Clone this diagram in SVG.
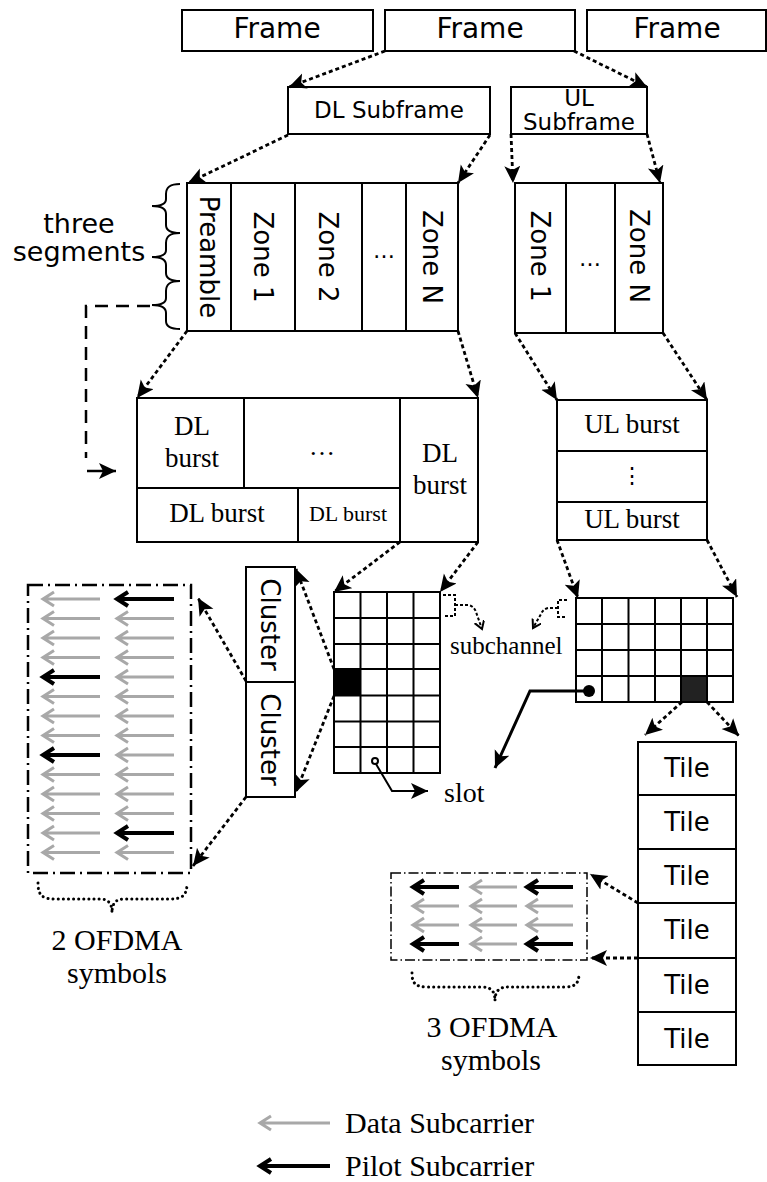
<svg xmlns="http://www.w3.org/2000/svg" xmlns:xlink="http://www.w3.org/1999/xlink" width="767" height="1182" viewBox="0 0 767 1182">
<style>
.box{fill:#fff;stroke:#000;stroke-width:2}
.ln{fill:none;stroke:#000;stroke-width:2}
.sans{font-family:"DejaVu Sans",Verdana,sans-serif;fill:#000}
.serif{font-family:"Liberation Serif","Times New Roman",serif;fill:#000}
.dot{fill:none;stroke:#000;stroke-width:2.8;stroke-dasharray:4 3}
.sub{fill:none;stroke:#000;stroke-width:2;stroke-dasharray:3 2}
.sol{fill:none;stroke:#000;stroke-width:2.5}
.gray{fill:none;stroke:#a8a8a8;stroke-width:3}
.blk{fill:none;stroke:#000;stroke-width:4}
.rdot{fill:none;stroke:#000;stroke-width:3;stroke-linecap:round;stroke-dasharray:0.1 5}
</style>
<defs>
<marker id="ah" markerUnits="userSpaceOnUse" markerWidth="20" markerHeight="18" refX="17" refY="8" orient="auto">
<path d="M0,0 L17,8 L0,16 L4,8 z" fill="#000"/>
</marker>
<marker id="sm" markerUnits="userSpaceOnUse" markerWidth="12" markerHeight="12" refX="8" refY="5" orient="auto">
<path d="M0,0 L8,5 L0,10" fill="none" stroke="#000" stroke-width="2"/>
</marker>
<path id="a57" d="M0,0 H57 M11,-7 L0,0 L11,7"/>
<path id="a46" d="M0,0 H46 M11,-7 L0,0 L11,7"/>
<path id="a70" d="M0,0 H70 M11,-7 L0,0 L11,7"/>
</defs>

<g id="frames">
<rect class="box" x="182" y="10" width="191" height="41"/>
<text class="sans" x="277" y="38" font-size="28" text-anchor="middle">Frame</text>
<rect class="box" x="385" y="10" width="190" height="41"/>
<text class="sans" x="480" y="38" font-size="28" text-anchor="middle">Frame</text>
<rect class="box" x="587" y="10" width="179" height="41"/>
<text class="sans" x="677" y="38" font-size="28" text-anchor="middle">Frame</text>
</g>

<g id="dl-subframe">
<rect class="box" x="288" y="87" width="202" height="47"/>
<text class="sans" x="389" y="118" font-size="23" text-anchor="middle">DL Subframe</text>
</g>

<g id="ul-subframe">
<clipPath id="ulclip"><rect x="511" y="88" width="136" height="46"/></clipPath>
<rect class="box" x="511" y="87" width="136" height="47"/>
<g clip-path="url(#ulclip)">
<text class="sans" x="579" y="106" font-size="23" text-anchor="middle">UL</text>
</g>
<text class="sans" x="579" y="130" font-size="23" text-anchor="middle">Subframe</text>
</g>

<g id="dl-zones">
<rect class="box" x="187" y="183" width="271" height="148"/>
<path class="ln" d="M231,183 V331 M295,183 V331 M362,183 V331 M406,183 V331"/>
<text class="sans" font-size="26" text-anchor="middle" transform="translate(200,257) rotate(90)">Preamble</text>
<text class="sans" font-size="26" text-anchor="middle" transform="translate(254,257) rotate(90)">Zone 1</text>
<text class="sans" font-size="26" text-anchor="middle" transform="translate(319,257) rotate(90)">Zone 2</text>
<text class="sans" x="384" y="258" font-size="22" text-anchor="middle">…</text>
<text class="sans" font-size="26" text-anchor="middle" transform="translate(423,257) rotate(90)">Zone N</text>
</g>

<g id="three-segments">
<text class="sans" x="79" y="233" font-size="27" text-anchor="middle">three</text>
<text class="sans" x="79" y="261" font-size="27" text-anchor="middle">segments</text>
<path class="ln" d="M180,184 C170,184 166,187 166,194 L166,199 C166,204 161,206 152,206 C161,206 166,209 166,214 L166,225 C166,230 170,233 180,233"/>
<path class="ln" d="M180,233 C170,233 166,236 166,243 L166,250 C166,255 161,257 152,257 C161,257 166,260 166,265 L166,273 C166,278 170,281 180,281"/>
<path class="ln" d="M180,281 C170,281 166,284 166,291 L166,298 C166,303 161,305 152,305 C161,305 166,308 166,313 L166,321 C166,326 170,329 180,329"/>
</g>

<g id="ul-zones">
<rect class="box" x="515" y="183" width="148" height="150"/>
<path class="ln" d="M566,183 V333 M615,183 V333"/>
<text class="sans" font-size="26" text-anchor="middle" transform="translate(531,256) rotate(90)">Zone 1</text>
<text class="sans" x="590" y="266" font-size="22" text-anchor="middle">…</text>
<text class="sans" font-size="26" text-anchor="middle" transform="translate(630,256) rotate(90)">Zone N</text>
</g>

<g id="dl-bursts">
<rect class="box" x="137" y="398" width="341" height="144"/>
<path class="ln" d="M244,398 V488 M137,488 H400 M400,398 V542 M298,488 V542"/>
<text class="serif" x="192" y="435" font-size="27" text-anchor="middle">DL</text>
<text class="serif" x="192" y="467" font-size="27" text-anchor="middle">burst</text>
<text class="serif" x="322" y="455" font-size="26" text-anchor="middle">…</text>
<text class="serif" x="217" y="522" font-size="27" text-anchor="middle">DL burst</text>
<text class="serif" x="348" y="521" font-size="22" text-anchor="middle">DL burst</text>
<text class="serif" x="440" y="462" font-size="27" text-anchor="middle">DL</text>
<text class="serif" x="440" y="494" font-size="27" text-anchor="middle">burst</text>
</g>

<g id="ul-bursts">
<rect class="box" x="557" y="400" width="150" height="140"/>
<path class="ln" d="M557,451 H707 M557,502 H707"/>
<text class="serif" x="632" y="433" font-size="27" text-anchor="middle">UL burst</text>
<text class="serif" x="632" y="483" font-size="22" text-anchor="middle">⋮</text>
<text class="serif" x="632" y="528" font-size="27" text-anchor="middle">UL burst</text>
</g>

<g id="dl-grid">
<rect x="334" y="669" width="26.5" height="26" fill="#000"/>
<rect class="ln" x="334" y="592" width="106" height="181"/>
<path class="ln" d="M360.5,592 V773 M387,592 V773 M413.5,592 V773 M334,618 H440 M334,644 H440 M334,669 H440 M334,695.5 H440 M334,721.5 H440 M334,747 H440"/>
</g>

<g id="ul-grid">
<rect x="682" y="676" width="25" height="26" fill="#222"/>
<rect class="ln" x="576" y="598" width="157" height="104"/>
<path class="ln" d="M602,598 V702 M628.5,598 V702 M655,598 V702 M681,598 V702 M707,598 V702 M576,624 H733 M576,650 H733 M576,676 H733"/>
</g>

<g id="subchannel">
<text class="serif" x="450" y="654" font-size="25">subchannel</text>
<path class="sub" d="M443,595 H455 V616 H443"/>
<path class="sub" marker-end="url(#sm)" d="M455,605 H468 Q474,606 476,612 L482,629"/>
<path class="sub" d="M567,600 H558 V617 H567"/>
<path class="sub" marker-end="url(#sm)" d="M558,608 H548 Q543,609 541,614 L533,628"/>
</g>

<g id="slot">
<text class="serif" x="444" y="802" font-size="28">slot</text>
</g>

<g id="cluster">
<rect class="box" x="246" y="567" width="49" height="230"/>
<path class="ln" d="M246,682 H295"/>
<text class="sans" font-size="26" text-anchor="middle" transform="translate(261,624.5) rotate(90)">Cluster</text>
<text class="sans" font-size="26" text-anchor="middle" transform="translate(261,739.5) rotate(90)">Cluster</text>
</g>

<g id="symbols-2">
<rect x="28" y="585" width="163" height="288" fill="none" stroke="#000" stroke-width="2.5" stroke-dasharray="15 5 2 5"/>
<g class="gray">
<use xlink:href="#a57" x="43" y="599"/>
<use xlink:href="#a57" x="43" y="618.5"/><use xlink:href="#a57" x="117" y="618.5"/>
<use xlink:href="#a57" x="43" y="638"/><use xlink:href="#a57" x="117" y="638"/>
<use xlink:href="#a57" x="43" y="657.5"/><use xlink:href="#a57" x="117" y="657.5"/>
<use xlink:href="#a57" x="117" y="677"/>
<use xlink:href="#a57" x="43" y="696.5"/><use xlink:href="#a57" x="117" y="696.5"/>
<use xlink:href="#a57" x="43" y="716"/><use xlink:href="#a57" x="117" y="716"/>
<use xlink:href="#a57" x="43" y="735.5"/><use xlink:href="#a57" x="117" y="735.5"/>
<use xlink:href="#a57" x="117" y="755"/>
<use xlink:href="#a57" x="43" y="774.5"/><use xlink:href="#a57" x="117" y="774.5"/>
<use xlink:href="#a57" x="43" y="794"/><use xlink:href="#a57" x="117" y="794"/>
<use xlink:href="#a57" x="43" y="813.5"/><use xlink:href="#a57" x="117" y="813.5"/>
<use xlink:href="#a57" x="43" y="833"/>
<use xlink:href="#a57" x="43" y="852.5"/><use xlink:href="#a57" x="117" y="852.5"/>
</g>
<g class="blk">
<use xlink:href="#a57" x="117" y="599"/>
<use xlink:href="#a57" x="43" y="677"/>
<use xlink:href="#a57" x="43" y="755"/>
<use xlink:href="#a57" x="117" y="833"/>
</g>
<path class="rdot" d="M38,883 C38,895 42,899 55,899 L100,899 C108,899 112,903 112,913 C112,903 116,899 124,899 L170,899 C183,899 187,895 187,883"/>
<text class="serif" x="117" y="950" font-size="30" text-anchor="middle">2 OFDMA</text>
<text class="serif" x="117" y="983" font-size="30" text-anchor="middle">symbols</text>
</g>

<g id="tiles">
<rect class="box" x="638" y="742" width="98" height="323"/>
<path class="ln" d="M638,795 H736 M638,849 H736 M638,903 H736 M638,958 H736 M638,1012 H736"/>
<text class="sans" x="687" y="777" font-size="26" text-anchor="middle">Tile</text>
<text class="sans" x="687" y="831" font-size="26" text-anchor="middle">Tile</text>
<text class="sans" x="687" y="885" font-size="26" text-anchor="middle">Tile</text>
<text class="sans" x="687" y="939" font-size="26" text-anchor="middle">Tile</text>
<text class="sans" x="687" y="994" font-size="26" text-anchor="middle">Tile</text>
<text class="sans" x="687" y="1048" font-size="26" text-anchor="middle">Tile</text>
</g>

<g id="symbols-3">
<rect x="391" y="873" width="196" height="87" fill="none" stroke="#000" stroke-width="1.5" stroke-dasharray="10 3 1.5 3"/>
<g class="gray">
<use xlink:href="#a46" x="471" y="887"/>
<use xlink:href="#a46" x="413" y="906"/><use xlink:href="#a46" x="471" y="906"/><use xlink:href="#a46" x="527" y="906"/>
<use xlink:href="#a46" x="413" y="925"/><use xlink:href="#a46" x="471" y="925"/><use xlink:href="#a46" x="527" y="925"/>
<use xlink:href="#a46" x="471" y="944"/>
</g>
<g class="blk">
<use xlink:href="#a46" x="413" y="887"/><use xlink:href="#a46" x="527" y="887"/>
<use xlink:href="#a46" x="413" y="944"/><use xlink:href="#a46" x="527" y="944"/>
</g>
<path class="rdot" d="M412,973 C412,984 416,987 428,987 L482,987 C491,987 495,991 495,1001 C495,991 499,987 508,987 L564,987 C575,987 579,984 579,973"/>
<text class="serif" x="492" y="1037" font-size="30" text-anchor="middle">3 OFDMA</text>
<text class="serif" x="491" y="1070" font-size="30" text-anchor="middle">symbols</text>
</g>

<g id="legend">
<use class="gray" xlink:href="#a70" x="260" y="1123"/>
<use class="blk" xlink:href="#a70" x="260" y="1166"/>
<text class="serif" x="345" y="1133" font-size="30">Data Subcarrier</text>
<text class="serif" x="345" y="1176" font-size="30">Pilot Subcarrier</text>
</g>

<g id="connectors">
<path class="dot" marker-end="url(#ah)" d="M385,51 L289,87"/>
<path class="dot" marker-end="url(#ah)" d="M574,51 L647,87"/>
<path class="dot" marker-end="url(#ah)" d="M288,135 L188,183"/>
<path class="dot" marker-end="url(#ah)" d="M490,135 L458,183"/>
<path class="dot" marker-end="url(#ah)" d="M511,134 L513,183"/>
<path class="dot" marker-end="url(#ah)" d="M647,134 L660,183"/>
<path class="dot" marker-end="url(#ah)" d="M187,331 L137,398"/>
<path class="dot" marker-end="url(#ah)" d="M458,331 L478,398"/>
<path class="dot" marker-end="url(#ah)" d="M515,333 L557,400"/>
<path class="dot" marker-end="url(#ah)" d="M663,333 L707,400"/>
<path class="dot" marker-end="url(#ah)" d="M400,542 L334,592"/>
<path class="dot" marker-end="url(#ah)" d="M478,542 L440,592"/>
<path class="dot" marker-end="url(#ah)" d="M557,540 L578,598"/>
<path class="dot" marker-end="url(#ah)" d="M707,540 L737,597"/>
<path class="dot" marker-end="url(#ah)" d="M682,702 L645,735"/>
<path class="dot" marker-end="url(#ah)" d="M707,702 L739,736"/>
<path class="dot" marker-end="url(#ah)" d="M334,669 L296,569"/>
<path class="dot" marker-end="url(#ah)" d="M334,696 L296,792"/>
<path class="dot" marker-end="url(#ah)" d="M246,681 L198,598"/>
<path class="dot" marker-end="url(#ah)" d="M246,797 L193,866"/>
<path class="dot" marker-end="url(#ah)" d="M638,903 L590,874"/>
<path class="dot" marker-end="url(#ah)" d="M638,958 L590,958"/>
<path fill="none" stroke="#000" stroke-width="2.5" stroke-dasharray="13 8" d="M150,306 H86 V458"/>
<path class="sol" marker-end="url(#ah)" d="M87,471 H116"/>
<circle cx="375" cy="761" r="3" fill="#fff" stroke="#000" stroke-width="2"/>
<path class="ln" marker-end="url(#ah)" d="M376,764 L392,791 H428"/>
<circle cx="589" cy="691" r="6" fill="#000"/>
<path fill="none" stroke="#000" stroke-width="3" marker-end="url(#ah)" d="M589,691 H530 L495,768"/>
</g>
</svg>
